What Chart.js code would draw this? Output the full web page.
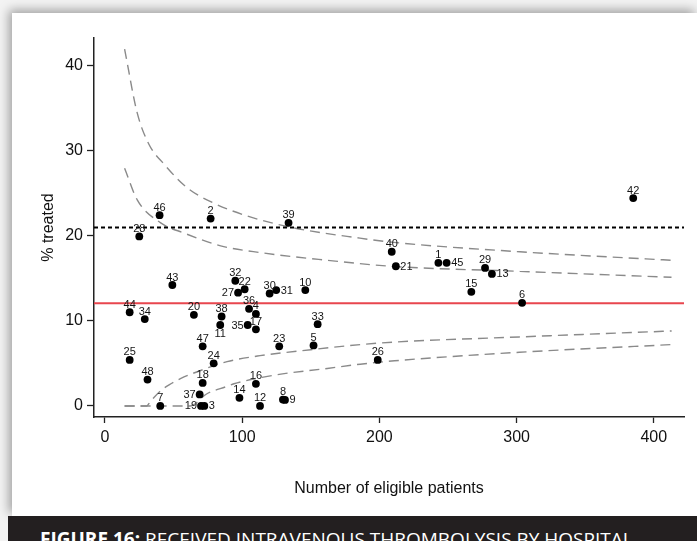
<!DOCTYPE html>
<html>
<head>
<meta charset="utf-8">
<script src="https://cdn.jsdelivr.net/npm/chart.js@4.4.0/dist/chart.umd.min.js"></script>
<style>
html,body{margin:0;padding:0;width:697px;height:541px;overflow:hidden;background:#f3f3f3;}
#panel{position:absolute;left:12px;top:13px;width:685px;height:503px;background:#fff;box-shadow:-3px -3px 10px rgba(0,0,0,0.35);}
#banner{position:absolute;left:8px;top:516px;width:689px;height:25px;background:#231f20;overflow:hidden;}
#banner div{position:absolute;left:32px;top:14px;font-family:"Open Sans",sans-serif;font-size:19px;line-height:19px;color:#fff;white-space:nowrap;}
#banner b{font-weight:700;}
#c{position:absolute;left:0;top:0;}
</style>
</head>
<body>
<div id="panel"></div>
<div id="banner"><div><b>FIGURE 16:</b> RECEIVED INTRAVENOUS THROMBOLYSIS BY HOSPITAL</div></div>
<canvas id="c" width="697" height="516"></canvas>
<script>
// ---- data ----
const xTickValues = [0, 100, 200, 300, 400];
const yTickValues = [0, 10, 20, 30, 40];
const xTitle = 'Number of eligible patients';
const yTitle = '% treated';

const hospitalIds      = [1, 2, 3, 4, 5, 6, 7, 8, 9, 10, 11, 12, 13, 14, 15, 16, 17, 18, 19, 20, 21, 22, 23, 24, 25, 26, 27, 28, 29, 30, 31, 32, 33, 34, 35, 36, 37, 38, 39, 40, 42, 43, 44, 45, 46, 47, 48];
const eligiblePatients = [243, 77, 72.4, 110, 152, 304, 40.3, 129.7, 131.2, 146, 84, 113, 282, 98, 267, 110, 110, 71.2, 70, 64.8, 212, 101.8, 127, 79.2, 18, 198.8, 97, 25, 277, 120, 124.8, 95, 155, 29, 104, 105, 69, 85, 133.8, 209, 385, 49.1, 18, 249, 39.8, 71.2, 31];
const pctTreated       = [16.8, 22.0, 0, 10.8, 7.1, 12.1, 0, 0.75, 0.7, 13.6, 9.5, 0, 15.5, 0.95, 13.4, 2.6, 9.0, 2.7, 0, 10.7, 16.4, 13.7, 7.0, 5.0, 5.4, 5.4, 13.3, 19.9, 16.2, 13.2, 13.6, 14.7, 9.6, 10.2, 9.5, 11.4, 1.35, 10.5, 21.5, 18.1, 24.4, 14.2, 11.0, 16.8, 22.4, 7.0, 3.1];

const meanPct = 12.05;
const targetPct = 20.95;

const upper998N   = [14.3, 23.5, 32.1, 43.0, 60.0, 79.4, 103.7, 137.7, 185.8, 210.6, 302.4, 412.9];
const upper998Pct = [41.9, 34.4, 30.7, 28.4, 25.6, 23.8, 22.3, 20.9, 19.7, 19.2, 18.1, 17.1];
const upper95N    = [14.3, 23.5, 40.6, 57.6, 84.3, 113.4, 162.0, 208.2, 302.4, 412.9];
const upper95Pct  = [27.9, 24.2, 21.5, 20.3, 18.8, 18.0, 17.1, 16.4, 15.8, 15.1];
const lower95N    = [14.3, 30.5, 33, 40, 47, 55, 72, 89, 113, 150, 186, 211, 302, 413];
const lower95Pct  = [0, 0, 0.5, 1.7, 2.5, 3.2, 4.3, 5.2, 5.9, 6.6, 7.2, 7.5, 8.1, 8.8];
const lower998N   = [14.3, 62, 74, 89, 94, 123, 162, 186, 211, 302, 413];
const lower998Pct = [0, 0, 1.4, 2.3, 2.6, 3.6, 4.4, 4.9, 5.3, 6.3, 7.2];

// ---- axis range ----
const xMin = -8, xMax = 422;
const yMin = -1.3, yMax = 43.2;

// ---- styling ----
const FONT = '"Liberation Sans", Arial, sans-serif';
const labelRight = new Set([45, 21, 13, 31, 3, 9]);
const labelLeft = new Set([27, 35, 37, 19]);
const labelBelow = new Set([11]);

const pts = (xs, ys) => xs.map((x, i) => ({x: x, y: ys[i]}));
const limitStyle = {
  showLine: true, pointRadius: 0, pointHoverRadius: 0, borderColor: '#8a8a8a',
  borderWidth: 1.4, borderDash: [10, 6], cubicInterpolationMode: 'monotone', fill: false
};

const labelPlugin = {
  id: 'hospLabels',
  afterDatasetsDraw(chart) {
    const ctx = chart.ctx;
    const meta = chart.getDatasetMeta(0);
    ctx.save();
    ctx.font = '11px ' + FONT;
    ctx.fillStyle = '#151515';
    meta.data.forEach((pt, i) => {
      const id = hospitalIds[i];
      let x = pt.x, y = pt.y - 7.5, align = 'center';
      if (labelRight.has(id)) { x = pt.x + 4.5; y = pt.y + 0.5; align = 'left'; }
      else if (labelLeft.has(id)) { x = pt.x - 4; y = pt.y + 0.5; align = 'right'; }
      else if (labelBelow.has(id)) { y = pt.y + 9; }
      ctx.textAlign = align;
      ctx.textBaseline = 'middle';
      ctx.fillText(String(id), x, y);
    });
    ctx.restore();
  }
};

new Chart(document.getElementById('c'), {
  type: 'scatter',
  data: {
    datasets: [
      { data: pts(eligiblePatients, pctTreated), pointRadius: 3.9, pointHoverRadius: 3.9,
        backgroundColor: '#000', borderColor: '#000', borderWidth: 0 },
      { data: [{x: xMin, y: meanPct}, {x: xMax, y: meanPct}], showLine: true, pointRadius: 0,
        borderColor: '#e8464e', borderWidth: 2 },
      { data: [{x: xMin, y: targetPct}, {x: xMax, y: targetPct}], showLine: true, pointRadius: 0,
        borderColor: '#000', borderWidth: 2, borderDash: [4, 3] },
      Object.assign({ data: pts(upper998N, upper998Pct) }, limitStyle),
      Object.assign({ data: pts(upper95N, upper95Pct) }, limitStyle),
      Object.assign({ data: pts(lower95N, lower95Pct) }, limitStyle),
      Object.assign({ data: pts(lower998N, lower998Pct) }, limitStyle)
    ]
  },
  options: {
    responsive: false,
    animation: false,
    events: [],
    layout: { padding: { top: 38, right: 13, left: 0, bottom: 0 } },
    plugins: { legend: { display: false }, tooltip: { enabled: false } },
    scales: {
      x: {
        type: 'linear', min: xMin, max: xMax,
        afterBuildTicks: s => { s.ticks = xTickValues.map(v => ({value: v})); },
        afterFit: s => { s.height = 99; },
        grid: { drawOnChartArea: false, drawTicks: true, tickLength: 6, tickColor: '#222', tickWidth: 1.3 },
        border: { display: true, color: '#222', width: 1.5 },
        ticks: { color: '#111', font: { family: FONT, size: 16 }, padding: 5, maxRotation: 0 },
        title: { display: true, text: xTitle, color: '#111', font: { family: FONT, size: 16 }, padding: { top: 0, bottom: 18 } }
      },
      y: {
        type: 'linear', min: yMin, max: yMax,
        afterBuildTicks: s => { s.ticks = yTickValues.map(v => ({value: v})); },
        afterFit: s => { s.width = 94; },
        grid: { drawOnChartArea: false, drawTicks: true, tickLength: 7, tickColor: '#222', tickWidth: 1.3 },
        border: { display: true, color: '#222', width: 1.5 },
        ticks: { color: '#111', font: { family: FONT, size: 16 }, padding: 4 },
        title: { display: true, text: yTitle, color: '#111', font: { family: FONT, size: 16 }, padding: { top: 39, bottom: 0 } }
      }
    }
  },
  plugins: [labelPlugin]
});
</script>
</body>
</html>
